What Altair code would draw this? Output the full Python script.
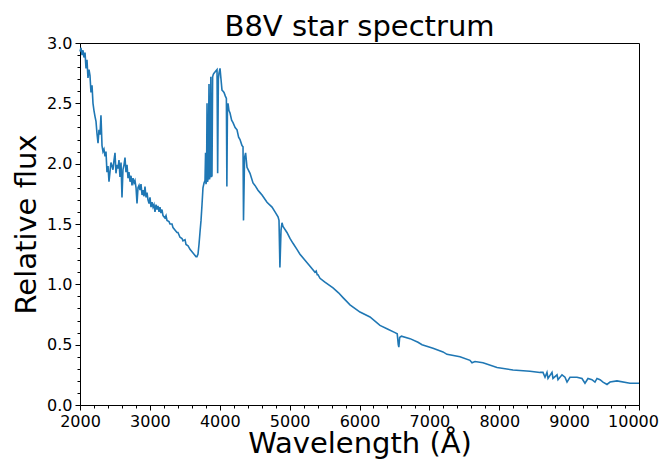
import altair as alt
import pandas as pd

# ---- data ----
uv_wl = [2000, 2014, 2029, 2043, 2057, 2072, 2086, 2100, 2114, 2129,
         2143, 2157, 2172, 2186, 2200, 2215, 2229, 2243, 2258, 2272,
         2286, 2300, 2315, 2329, 2343, 2358, 2372, 2386, 2401, 2415,
         2429, 2443, 2458, 2472, 2487, 2501, 2515, 2529, 2544, 2558,
         2572, 2587, 2601, 2615, 2630, 2644, 2658, 2673, 2687, 2701,
         2716, 2730, 2744, 2759, 2773, 2787, 2802, 2816, 2830, 2845,
         2859, 2873, 2888, 2902, 2916, 2930, 2945, 2959, 2973, 2988,
         3002, 3016, 3031, 3045, 3059, 3073, 3088, 3102, 3116, 3131,
         3145, 3159, 3173, 3188, 3216, 3231, 3245, 3274, 3288, 3317,
         3331, 3359, 3388, 3402, 3431, 3460, 3474, 3503, 3517, 3546,
         3574, 3603, 3632, 3660, 3674, 3689, 3703, 3717, 3732, 3746,
         3760, 3775]
uv_flux = [2.93, 2.96, 2.90, 2.94, 2.88, 2.92, 2.79, 2.86, 2.71, 2.78,
           2.73, 2.59, 2.65, 2.50, 2.44, 2.39, 2.35, 2.25, 2.17, 2.28,
           2.24, 2.40, 2.15, 2.10, 2.12, 2.06, 2.10, 1.93, 1.98, 1.85,
           1.93, 2.01, 1.98, 1.95, 2.03, 2.09, 1.92, 1.99, 1.96, 2.03,
           1.89, 2.01, 1.72, 1.95, 1.99, 2.05, 1.93, 1.99, 1.88, 1.93,
           1.85, 1.90, 1.82, 1.88, 1.84, 1.86, 1.80, 1.67, 1.80, 1.82,
           1.78, 1.83, 1.74, 1.78, 1.73, 1.81, 1.72, 1.76, 1.70, 1.67,
           1.72, 1.64, 1.68, 1.64, 1.66, 1.60, 1.66, 1.62, 1.65, 1.60,
           1.64, 1.59, 1.62, 1.57, 1.55, 1.57, 1.53, 1.52, 1.50, 1.50,
           1.47, 1.45, 1.43, 1.43, 1.39, 1.38, 1.36, 1.37, 1.33, 1.32,
           1.29, 1.27, 1.25, 1.23, 1.23, 1.25, 1.33, 1.43, 1.53, 1.66,
           1.80, 1.84]

balmer_wl = [3789, 3797, 3803, 3811, 3818, 3825, 3834, 3846, 3853, 3862,
             3872, 3880, 3889, 3898, 3908, 3918, 3932, 3946, 3961, 3970,
             3980, 3989, 4004, 4018, 4032, 4047, 4061, 4080, 4095, 4102,
             4110, 4118, 4132, 4147, 4170, 4190, 4220, 4247, 4270, 4290,
             4318, 4333, 4340, 4355, 4370, 4390, 4433, 4476, 4504, 4547,
             4576, 4605, 4676, 4748, 4791, 4834, 4848, 4861, 4877, 4891,
             4905, 4962]
balmer_flux = [1.86, 2.09, 1.83, 1.86, 2.50, 1.85, 1.88, 2.66, 1.87, 1.90,
               2.72, 1.89, 1.90, 2.72, 2.74, 2.75, 2.76, 2.77, 2.78, 1.92,
               2.70, 2.75, 2.79, 2.70, 2.61, 2.60, 2.59, 2.56, 2.54, 1.81,
               2.45, 2.50, 2.44, 2.42, 2.36, 2.34, 2.30, 2.28, 2.22, 2.20,
               2.15, 2.14, 1.53, 2.05, 2.09, 1.97, 1.92, 1.84, 1.82, 1.78,
               1.76, 1.74, 1.68, 1.64, 1.60, 1.56, 1.53, 1.14, 1.45, 1.51,
               1.48, 1.43]

red_wl = [5005, 5048, 5105, 5148, 5220, 5292, 5363, 5380, 5395, 5406,
          5435, 5500, 5621, 5700, 5764, 5864, 6007, 6150, 6293, 6400,
          6508, 6540, 6555, 6563, 6575, 6600, 6723, 6837, 6895, 7052,
          7195, 7252, 7438, 7581, 7610, 7653, 7767, 7968, 8197, 8440,
          8583, 8626, 8655, 8683, 8698, 8755, 8769, 8827, 8841, 8898,
          8941, 8970, 9012, 9112, 9184, 9227, 9270, 9327, 9370, 9399,
          9442, 9485, 9542, 9585, 9685, 9871, 10000]
red_flux = [1.38, 1.34, 1.29, 1.25, 1.20, 1.15, 1.10, 1.11, 1.08, 1.08,
            1.05, 1.02, 0.97, 0.93, 0.89, 0.83, 0.77, 0.73, 0.66, 0.63,
            0.60, 0.59, 0.50, 0.48, 0.56, 0.57, 0.55, 0.52, 0.50, 0.47,
            0.44, 0.42, 0.40, 0.37, 0.35, 0.36, 0.35, 0.31, 0.29, 0.28,
            0.27, 0.27, 0.23, 0.27, 0.22, 0.27, 0.22, 0.25, 0.21, 0.25,
            0.23, 0.19, 0.23, 0.23, 0.22, 0.18, 0.22, 0.21, 0.19, 0.22,
            0.21, 0.19, 0.17, 0.19, 0.20, 0.18, 0.18]

x_major = [2000, 3000, 4000, 5000, 6000, 7000, 8000, 9000, 10000]
x_minor = [w for w in range(2000, 10001, 200) if w % 1000 != 0]
y_major = [0.0, 0.5, 1.0, 1.5, 2.0, 2.5, 3.0]
y_minor = [round(v * 0.1, 1) for v in range(0, 31) if v % 5 != 0]

assert len(uv_wl) == len(uv_flux)
assert len(balmer_wl) == len(balmer_flux)
assert len(red_wl) == len(red_flux)

df = pd.DataFrame({
    "wavelength": uv_wl + balmer_wl + red_wl,
    "flux": uv_flux + balmer_flux + red_flux,
})

FONT = "DejaVu Sans"
xscale = alt.Scale(domain=[2000, 10000], nice=False, zero=False)
yscale = alt.Scale(domain=[0, 3.0], nice=False, zero=False)

main = alt.Chart(df).mark_line(color="#1f77b4", strokeWidth=1.6).encode(
    x=alt.X("wavelength:Q", scale=xscale,
            axis=alt.Axis(values=x_major, format="d", orient="bottom",
                          title="Wavelength (Å)", titleFontSize=29,
                          titleFontWeight="normal", titleFont=FONT,
                          titleColor="black", titlePadding=0,
                          labelFont=FONT, labelFontSize=16, labelColor="black",
                          labelPadding=3, tickSize=5, tickColor="black",
                          labelOffset={"condition": {"test": "datum.value == 10000", "value": -6},
                                       "value": 0},
                          domainColor="black", grid=False, labelFlush=False)),
    y=alt.Y("flux:Q", scale=yscale,
            axis=alt.Axis(values=y_major, format=".1f", orient="left",
                          title="Relative flux", titleFontSize=29,
                          titleFontWeight="normal", titleFont=FONT,
                          titleColor="black", titlePadding=5,
                          labelFont=FONT, labelFontSize=16, labelColor="black",
                          labelPadding=3, tickSize=5, tickColor="black",
                          domainColor="black", grid=False, labelFlush=False)),
)

minor = alt.Chart(df).mark_line(strokeOpacity=0).encode(
    x=alt.X("wavelength:Q", scale=xscale,
            axis=alt.Axis(values=x_minor, orient="bottom", labels=False,
                          title=None, tickSize=3, tickColor="black",
                          domain=False, grid=False)),
    y=alt.Y("flux:Q", scale=yscale,
            axis=alt.Axis(values=y_minor, orient="left", labels=False,
                          title=None, tickSize=3, tickColor="black",
                          domain=False, grid=False)),
)

chart = alt.layer(main, minor).resolve_axis(x="independent", y="independent").properties(
    width=559, height=362,
    autosize=alt.AutoSizeParams(type="none"),
    padding={"left": 72, "top": 35, "right": 20, "bottom": 55},
    title=alt.TitleParams("B8V star spectrum", fontSize=29, font=FONT,
                          fontWeight="normal", color="black", anchor="middle",
                          offset=6, dy=13),
).configure_view(stroke="black", strokeWidth=1)

chart.save("out.html", embed_options={"renderer": "svg", "actions": False})
